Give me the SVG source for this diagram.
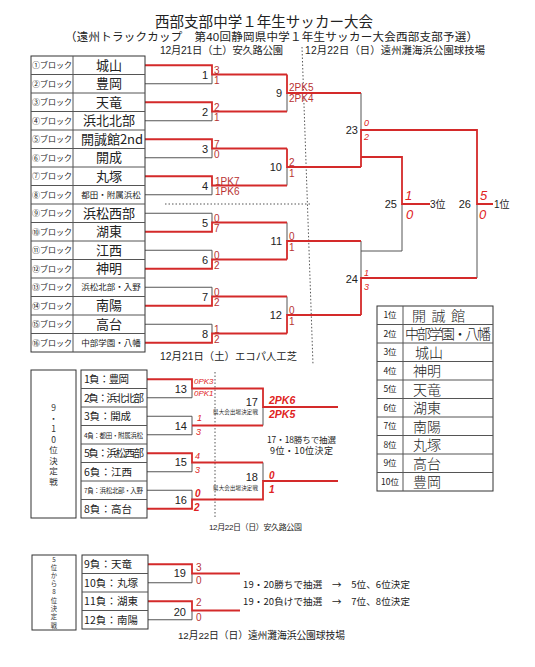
<svg xmlns="http://www.w3.org/2000/svg" width="535" height="667" viewBox="0 0 535 667">
<style>
text{font-family:"Liberation Sans","Noto Sans CJK JP",sans-serif;fill:#222}
.j{font-family:"Noto Sans CJK JP",sans-serif}
.box{fill:#fff;stroke:#333;stroke-width:1}
.bk{fill:none;stroke:#555;stroke-width:1}
.rd{fill:none;stroke:#d42a2a;stroke-width:1.8}
.sc{font-size:10px;fill:#b83232}
.hw{font-style:italic;fill:#e02222}
.dot{fill:none;stroke:#555;stroke-width:1;stroke-dasharray:1.5 2}
.bl{font-size:8px;text-anchor:middle}
.nm{font-size:13px;text-anchor:middle}
.sm{font-size:8.5px;text-anchor:middle}
.ml{font-size:11px;text-anchor:end}
.rk{font-size:8.5px;text-anchor:middle}
.hn{font-family:"Noto Sans CJK JP",sans-serif;font-size:14px;font-weight:300;fill:#222}
.ln{font-size:10.5px}
.v1{font-family:"Noto Sans CJK JP",sans-serif;font-size:8.5px;text-anchor:middle;fill:#333}
.v2{font-family:"Noto Sans CJK JP",sans-serif;font-size:6.3px;text-anchor:middle;fill:#333}
</style>
<rect width="535" height="667" fill="#fff"/>

<g id="title">
<text x="155" y="26.5" font-size="14.5" textLength="218">西部支部中学１年生サッカー大会</text>
<text x="65" y="40.5" font-size="11.5" textLength="413">（遠州トラックカップ　第40回静岡県中学１年生サッカー大会西部支部予選）</text>
<text x="160" y="54" font-size="10.3" textLength="123">12月21日（土）安久路公園</text>
<text x="305" y="54" font-size="10.3" textLength="180">12月22日（日）遠州灘海浜公園球技場</text>
<text x="160" y="360" font-size="10.3" textLength="137">12月21日（土）エコパ人工芝</text>
<text x="209" y="530" font-size="8" textLength="93">12月22日（日）安久路公園</text>
<text x="178" y="639" font-size="9.8" textLength="167">12月22日（日）遠州灘海浜公園球技場</text>
</g>

<g id="connectors">
<line class="dot" x1="302" y1="47" x2="313" y2="365"/>
<line class="dot" x1="165" y1="204" x2="310" y2="204"/>
<line class="dot" x1="215" y1="372" x2="215" y2="517"/>
<path class="bk" d="M145 83.75H212V74.5M145 120.75H212V111.5M145 157.75H212V148.5M145 194.75H212V185.5M145 213.25H212V222.5M145 250.25H212V259.5M145 287.25H212V296.5M145 324.25H212V333.5"/>
<path class="bk" d="M287 111.5V93M287 185.5V167M287 222.5V241M287 296.5V315"/>
<path class="bk" d="M361 93V130M361 241V278M402 204V251H361M477 204V278"/>
<path class="bk" d="M147 397.75H192V388.5M147 416.25H192V434.75H147M147 471.75H192V462.5M147 490.25H192V499.5M263 425.5V407M263 462.5V481"/>
<path class="bk" d="M148 582.75H192V573.5M148 619.75H192V610.5"/>
<path class="rd" d="M145 65.25H212V74.5H287M145 102.25H212V111.5H287M145 139.25H212V148.5H287M145 176.25H212V185.5H287M145 231.75H212V222.5H287M145 268.75H212V259.5H287M145 305.75H212V296.5H287M145 342.75H212V333.5H287"/>
<path class="rd" d="M287 74.5V93H361M287 148.5V167H361M287 259.5V241H361M287 333.5V315H361"/>
<path class="rd" d="M361 167V130H477V204H493M361 157H402V204H430M361 315V278H477"/>
<path class="rd" d="M147 379.25H192V388.5H263V407H338M192 425.5H263M147 453.25H192V462.5H263M147 508.75H192V499.5H263V481H338"/>
<path class="rd" d="M148 564.25H192V573.5H240M148 601.25H192V610.5H240"/>
</g>

<g id="blocks">
<rect class="box" x="31" y="56" width="114" height="296"/>
<line class="bk" x1="73" y1="56" x2="73" y2="352"/>
<path class="bk" d="M31 74.5H145M31 93H145M31 111.5H145M31 130H145M31 148.5H145M31 167H145M31 185.5H145M31 204H145M31 222.5H145M31 241H145M31 259.5H145M31 278H145M31 296.5H145M31 315H145M31 333.5H145"/>
</g>
<g id="b1"><text class="bl j" x="52" y="68.25">①ブロック</text><text class="nm j" x="109" y="69.75">城山</text></g>
<g id="b2"><text class="bl j" x="52" y="86.75">②ブロック</text><text class="nm j" x="109" y="88.25">豊岡</text></g>
<g id="b3"><text class="bl j" x="52" y="105.25">③ブロック</text><text class="nm j" x="109" y="106.75">天竜</text></g>
<g id="b4"><text class="bl j" x="52" y="123.75">④ブロック</text><text class="nm j" x="109" y="125.25">浜北北部</text></g>
<g id="b5"><text class="bl j" x="52" y="142.25">⑤ブロック</text><text class="nm j" x="112" y="143.75">開誠館2nd</text></g>
<g id="b6"><text class="bl j" x="52" y="160.75">⑥ブロック</text><text class="nm j" x="109" y="162.25">開成</text></g>
<g id="b7"><text class="bl j" x="52" y="179.25">⑦ブロック</text><text class="nm j" x="109" y="180.75">丸塚</text></g>
<g id="b8"><text class="bl j" x="52" y="197.75">⑧ブロック</text><text class="sm j" x="111" y="197.75">都田・附属浜松</text></g>
<g id="b9"><text class="bl j" x="52" y="216.25">⑨ブロック</text><text class="nm j" x="109" y="217.75">浜松西部</text></g>
<g id="b10"><text class="bl j" x="52" y="234.75">⑩ブロック</text><text class="nm j" x="109" y="236.25">湖東</text></g>
<g id="b11"><text class="bl j" x="52" y="253.25">⑪ブロック</text><text class="nm j" x="109" y="254.75">江西</text></g>
<g id="b12"><text class="bl j" x="52" y="271.75">⑫ブロック</text><text class="nm j" x="109" y="273.25">神明</text></g>
<g id="b13"><text class="bl j" x="52" y="290.25">⑬ブロック</text><text class="sm j" x="111" y="290.25">浜松北部・入野</text></g>
<g id="b14"><text class="bl j" x="52" y="308.75">⑭ブロック</text><text class="nm j" x="109" y="310.25">南陽</text></g>
<g id="b15"><text class="bl j" x="52" y="327.25">⑮ブロック</text><text class="nm j" x="109" y="328.75">高台</text></g>
<g id="b16"><text class="bl j" x="52" y="345.75">⑯ブロック</text><text class="sm j" x="111" y="345.75">中部学園・八幡</text></g>

<g id="m1"><text class="ml" x="208" y="78.5">1</text><text class="sc" x="214" y="73.5">3</text><text class="sc" x="214" y="83.5">1</text></g>
<g id="m2"><text class="ml" x="208" y="115.5">2</text><text class="sc" x="214" y="110.5">2</text><text class="sc" x="214" y="120.5">1</text></g>
<g id="m3"><text class="ml" x="208" y="152.5">3</text><text class="sc" x="214" y="147.5">7</text><text class="sc" x="214" y="157.5">0</text></g>
<g id="m4"><text class="ml" x="208" y="189.5">4</text><text class="sc" x="215" y="184.5">1PK7</text><text class="sc" x="215" y="194.5">1PK6</text></g>
<g id="m5"><text class="ml" x="208" y="226.5">5</text><text class="sc" x="214" y="221.5">0</text><text class="sc" x="214" y="231.5">7</text></g>
<g id="m6"><text class="ml" x="208" y="263.5">6</text><text class="sc" x="214" y="258.5">0</text><text class="sc" x="214" y="268.5">2</text></g>
<g id="m7"><text class="ml" x="208" y="300.5">7</text><text class="sc" x="214" y="295.5">0</text><text class="sc" x="214" y="305.5">2</text></g>
<g id="m8"><text class="ml" x="208" y="337.5">8</text><text class="sc" x="214" y="332.5">1</text><text class="sc" x="214" y="342.5">2</text></g>
<g id="m9"><text class="ml" x="282" y="97">9</text><text class="sc" x="289" y="90.5">2PK5</text><text class="sc" x="289" y="101.5">2PK4</text></g>
<g id="m10"><text class="ml" x="282" y="171">10</text><text class="sc" x="289" y="165.5">2</text><text class="sc" x="289" y="176.5">1</text></g>
<g id="m11"><text class="ml" x="282" y="245">11</text><text class="sc" x="289" y="239.5">0</text><text class="sc" x="289" y="250.5">1</text></g>
<g id="m12"><text class="ml" x="282" y="319">12</text><text class="sc" x="289" y="313.5">0</text><text class="sc" x="289" y="324.5">1</text></g>
<g id="m23"><text class="ml" x="358" y="134">23</text><text class="hw" x="364" y="126" font-size="9">0</text><text class="hw" x="364" y="140" font-size="9">2</text></g>
<g id="m24"><text class="ml" x="358" y="283">24</text><text class="hw" x="364" y="276" font-size="9">1</text><text class="hw" x="364" y="290" font-size="9">3</text></g>
<g id="m25"><text class="ml" x="397" y="208">25</text><text class="hw" x="405" y="200" font-size="13">1</text><text class="hw" x="406" y="219" font-size="13">0</text><text x="430" y="208" font-size="10">3位</text></g>
<g id="m26"><text class="ml" x="471" y="208">26</text><text class="hw" x="480" y="200" font-size="13">5</text><text class="hw" x="479" y="219" font-size="13">0</text><text x="494" y="208" font-size="10">1位</text></g>

<g id="ranking">
<rect class="box" x="377" y="306" width="116" height="185"/>
<line class="bk" x1="403" y1="306" x2="403" y2="491"/>
<path class="bk" d="M377 324.5H493M377 343H493M377 361.5H493M377 380H493M377 398.5H493M377 417H493M377 435.5H493M377 454H493M377 472.5H493"/>
<text class="rk j" x="390" y="318.25">1位</text><text class="hn" x="412" y="320.5" textLength="53">開誠館</text>
<text class="rk j" x="390" y="336.75">2位</text><text class="hn" x="405" y="339" font-size="12" textLength="86">中部学園・八幡</text>
<text class="rk j" x="390" y="355.25">3位</text><text class="hn" x="415" y="357.5">城山</text>
<text class="rk j" x="390" y="373.75">4位</text><text class="hn" x="413" y="376">神明</text>
<text class="rk j" x="390" y="392.25">5位</text><text class="hn" x="413" y="394.5" font-size="13">天竜</text>
<text class="rk j" x="390" y="410.75">6位</text><text class="hn" x="413" y="413">湖東</text>
<text class="rk j" x="390" y="429.25">7位</text><text class="hn" x="413" y="431.5">南陽</text>
<text class="rk j" x="390" y="447.75">8位</text><text class="hn" x="413" y="450">丸塚</text>
<text class="rk j" x="390" y="466.25">9位</text><text class="hn" x="413" y="468.5">高台</text>
<text class="rk j" x="390" y="484.75">10位</text><text class="hn" x="413" y="487">豊岡</text>
</g>

<g id="label-9-10">
<rect class="box" x="31" y="370" width="45" height="148"/>
<text class="v1" x="53.5" y="411">9</text>
<text class="v1" x="53.5" y="421.5">・</text>
<text class="v1" x="53.5" y="432">1</text>
<text class="v1" x="53.5" y="442.5">0</text>
<text class="v1" x="53.5" y="453">位</text>
<text class="v1" x="53.5" y="463.5">決</text>
<text class="v1" x="53.5" y="474">定</text>
<text class="v1" x="53.5" y="484.5">戦</text>
</g>
<g id="losers-9-10">
<rect class="box" x="81" y="370" width="66" height="148"/>
<path class="bk" d="M81 388.5H147M81 407H147M81 425.5H147M81 444H147M81 462.5H147M81 481H147M81 499.5H147"/>
<text class="j ln" x="84" y="383.25" textLength="45">1負：豊岡</text>
<text class="j ln" x="84" y="401.75" textLength="60">2負：浜北北部</text>
<text class="j ln" x="84" y="420.25" textLength="47">3負：開成</text>
<text class="j" x="84" y="437.5" font-size="6.5" textLength="59">4負：都田・附属浜松</text>
<text class="j ln" x="84" y="457.25" textLength="60">5負：浜松西部</text>
<text class="j ln" x="84" y="475.75" textLength="48">6負：江西</text>
<text class="j" x="84" y="493" font-size="6.5" textLength="59">7負：浜松北部・入野</text>
<text class="j ln" x="84" y="512.75" textLength="48">8負：高台</text>
</g>
<g id="m13"><text class="ml" x="187" y="393">13</text><text class="hw" x="194" y="384" font-size="8">0PK3</text><text class="hw" x="194" y="396" font-size="8">0PK1</text></g>
<g id="m14"><text class="ml" x="187" y="430">14</text><text class="hw" x="197" y="421" font-size="9">1</text><text class="hw" x="196" y="435" font-size="9">3</text></g>
<g id="m15"><text class="ml" x="187" y="466">15</text><text class="hw" x="195" y="459" font-size="9">4</text><text class="hw" x="195" y="473" font-size="9">3</text></g>
<g id="m16"><text class="ml" x="187" y="504">16</text><text class="hw" x="195" y="497" font-size="10" font-weight="bold">0</text><text class="hw" x="194" y="511" font-size="10" font-weight="bold">2</text></g>
<g id="m17"><text class="ml" x="258" y="406">17</text><text class="j" x="258" y="414" font-size="5.5" text-anchor="end" textLength="45">県大会出場決定戦</text><text class="hw" x="269" y="404" font-size="10.5" font-weight="bold">2PK6</text><text class="hw" x="269" y="418" font-size="10.5" font-weight="bold">2PK5</text></g>
<g id="m18"><text class="ml" x="258" y="481">18</text><text class="j" x="258" y="490" font-size="5.5" text-anchor="end" textLength="45">県大会出場決定戦</text><text class="hw" x="269" y="479" font-size="10" font-weight="bold">0</text><text class="hw" x="269" y="493" font-size="10" font-weight="bold">1</text></g>
<g id="note-17-18">
<text class="j" x="267" y="443" font-size="8.5" textLength="69" fill="#333">17・18勝ちで抽選</text>
<text class="j" x="270" y="454" font-size="9" textLength="63" fill="#333">9位・10位決定</text>
</g>

<g id="label-5-8">
<rect class="box" x="32" y="555" width="44" height="75"/>
<text class="v2" x="54" y="561.5">5</text>
<text class="v2" x="54" y="569.5">位</text>
<text class="v2" x="54" y="577.8">か</text>
<text class="v2" x="54" y="586.1">ら</text>
<text class="v2" x="54" y="594.4">8</text>
<text class="v2" x="54" y="602.7">位</text>
<text class="v2" x="54" y="611">決</text>
<text class="v2" x="54" y="619.3">定</text>
<text class="v2" x="54" y="627.6">戦</text>
</g>
<g id="losers-5-8">
<rect class="box" x="82" y="555" width="66" height="74"/>
<path class="bk" d="M82 573.5H148M82 592H148M82 610.5H148"/>
<text class="j ln" x="84" y="568.25" textLength="48">9負：天竜</text>
<text class="j ln" x="84" y="586.75" textLength="54">10負：丸塚</text>
<text class="j ln" x="84" y="605.25" textLength="54">11負：湖東</text>
<text class="j ln" x="84" y="623.75" textLength="54">12負：南陽</text>
</g>
<g id="m19"><text class="ml" x="186" y="577">19</text><text class="sc" x="196" y="571" font-size="9">3</text><text class="sc" x="196" y="584" font-size="9">0</text></g>
<g id="m20"><text class="ml" x="186" y="616">20</text><text class="sc" x="196" y="606" font-size="9">2</text><text class="sc" x="196" y="621" font-size="9">0</text></g>
<g id="note-19-20">
<text class="j" x="243" y="587.5" font-size="9.5" textLength="167" fill="#333">19・20勝ちで抽選　→　5位、6位決定</text>
<text class="j" x="243" y="605" font-size="9.5" textLength="167" fill="#333">19・20負けで抽選　→　7位、8位決定</text>
</g>
</svg>
